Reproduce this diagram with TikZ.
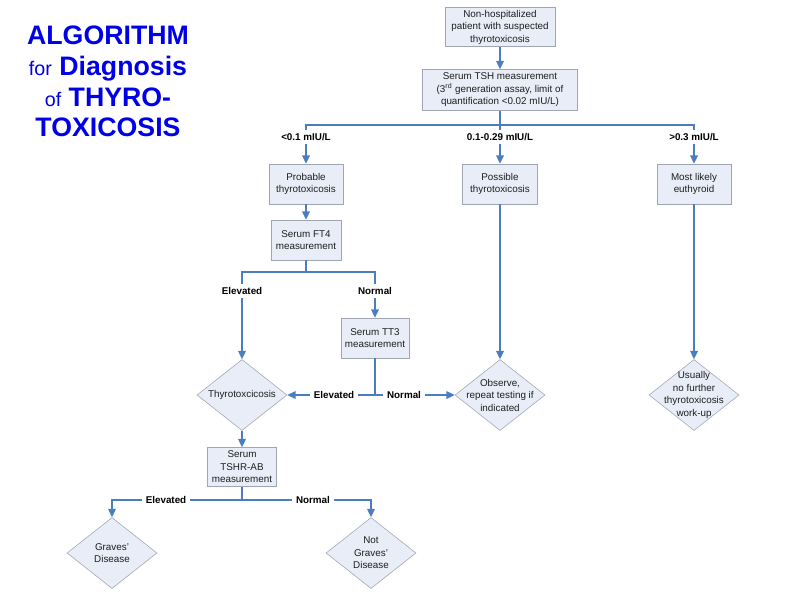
\documentclass[tikz,border=0pt]{standalone}
\usepackage{fontspec}
\setmainfont{Liberation Sans}
\usetikzlibrary{arrows.meta, shapes.geometric, positioning}

\definecolor{titleblue}{RGB}{0,0,230}
\definecolor{boxfill}{RGB}{232,237,247}
\definecolor{boxline}{RGB}{160,165,180}
\definecolor{flowblue}{RGB}{74,126,193}
\definecolor{textgray}{RGB}{30,30,30}

\begin{document}
\begin{tikzpicture}[
  x=0.025cm, y=-0.025cm,
  % --- styles ------------------------------------------------------------
  box/.style={
    rectangle, draw=boxline, fill=boxfill, text=textgray,
    font=\fontsize{7}{8.9}\selectfont, align=center, inner sep=1pt
  },
  dia/.style={
    diamond, draw=boxline, fill=boxfill,
    minimum width=2.25cm, minimum height=1.775cm, inner sep=0pt
  },
  diatext/.style={text=textgray, font=\fontsize{7}{8.9}\selectfont, align=center, inner sep=0pt},
  cond/.style={font=\bfseries\fontsize{7}{8.4}\selectfont, inner sep=2.5pt},
  line/.style={flowblue, line width=1.1pt},
  flow/.style={line, -{Triangle[length=6pt, width=5.5pt]}},
  title/.style={titleblue, font=\bfseries\fontsize{19}{21.8}\selectfont, align=center, inner sep=0pt}
]
\useasboundingbox (0,0) rectangle (800,600);

% --------------------- title --------------------------------------------
\node[title, anchor=north] (ttl) at (108,26)
  {ALGORITHM\\{\mdseries\fontsize{14}{21.8}\selectfont for} Diagnosis\\
   {\mdseries\fontsize{14}{21.8}\selectfont of} THYRO-\\TOXICOSIS};

% --------------------- top column ---------------------------------------
\node[box, minimum width=2.75cm, minimum height=0.975cm] (nhp) at (500,27)
  {Non-hospitalized\\patient with suspected\\thyrotoxicosis};
\node[box, minimum width=3.875cm, minimum height=1.025cm] (tsh) at (500,90)
  {Serum TSH measurement\\(3\textsuperscript{rd} generation assay, limit of\\quantification <0.02 mIU/L)};

% --------------------- TSH branches -------------------------------------
\node[cond] (lLow)  at (306,137) {<0.1 mIU/L};
\node[cond] (lMid)  at (500,137) {0.1-0.29 mIU/L};
\node[cond] (lHigh) at (694,137) {>0.3 mIU/L};

\node[box, minimum width=1.85cm, minimum height=1cm] (prob) at (306,184) {Probable\\thyrotoxicosis};
\node[box, minimum width=1.875cm, minimum height=1cm] (poss) at (500,184) {Possible\\thyrotoxicosis};
\node[box, minimum width=1.85cm, minimum height=1cm] (eut)  at (694,184) {Most likely\\euthyroid};

% --------------------- FT4 / TT3 ----------------------------------------
\node[box, minimum width=1.75cm, minimum height=1cm] (ft4) at (306,240) {Serum FT4\\measurement};
\node[cond] (lFtEl) at (242,291) {Elevated};
\node[cond] (lFtNo) at (375,291) {Normal};
\node[box, minimum width=1.7cm, minimum height=1cm] (tt3) at (375,338) {Serum TT3\\measurement};

\node[dia, label={[diatext]center:Thyrotoxcicosis}] (thy) at (242,395) {};
\node[dia, label={[diatext]center:{Observe,\\repeat testing if\\indicated}}] (obs) at (500,395) {};
\node[dia, label={[diatext]center:{Usually\\no further\\thyrotoxicosis\\work-up}}] (usu) at (694,395) {};
\node[cond] (lTtEl) at (334,395) {Elevated};
\node[cond] (lTtNo) at (404,395) {Normal};

% --------------------- TSHR-AB ------------------------------------------
\node[box, minimum width=1.725cm, minimum height=0.975cm] (tshr) at (242,467) {Serum\\TSHR-AB\\measurement};
\node[cond] (lAbEl) at (166,500) {Elevated};
\node[cond] (lAbNo) at (313,500) {Normal};
\node[dia, label={[diatext]center:{Graves’\\Disease}}] (grv) at (112,553) {};
\node[dia, label={[diatext]center:{Not\\Graves’\\Disease}}] (ngrv) at (371,553) {};

% --------------------- connectors ---------------------------------------
\coordinate (split)   at (500,125);
\coordinate (ftsplit) at (306,272);
\coordinate (ttsplit) at (375,395);
\coordinate (absplit) at (242,500);

\draw[flow] (nhp) -- (tsh);
\draw[line] (tsh) -- (split) -| (lLow);
\draw[line] (split) -| (lHigh);
\draw[line] (split) -- (lMid);
\draw[flow] (lLow) -- (prob);
\draw[flow] (lMid) -- (poss);
\draw[flow] (lHigh) -- (eut);

\draw[flow] (prob) -- (ft4);
\draw[line] (ft4) -- (ftsplit) -| (lFtEl);
\draw[line] (ftsplit) -| (lFtNo);
\draw[flow] (lFtEl) -- (thy);
\draw[flow] (lFtNo) -- (tt3);

\draw[line] (tt3) -- (ttsplit);
\draw[line] (ttsplit) -- (lTtEl);
\draw[line] (ttsplit) -- (lTtNo);
\draw[flow] (lTtEl) -- (thy);
\draw[flow] (lTtNo) -- (obs);

\draw[flow] (poss) -- (obs);
\draw[flow] (eut) -- (usu);

\draw[flow] (thy) -- (tshr);
\draw[line] (tshr) -- (absplit);
\draw[line] (absplit) -- (lAbEl);
\draw[line] (absplit) -- (lAbNo);
\draw[flow] (lAbEl) -| (grv);
\draw[flow] (lAbNo) -| (ngrv);

\end{tikzpicture}
\end{document}
